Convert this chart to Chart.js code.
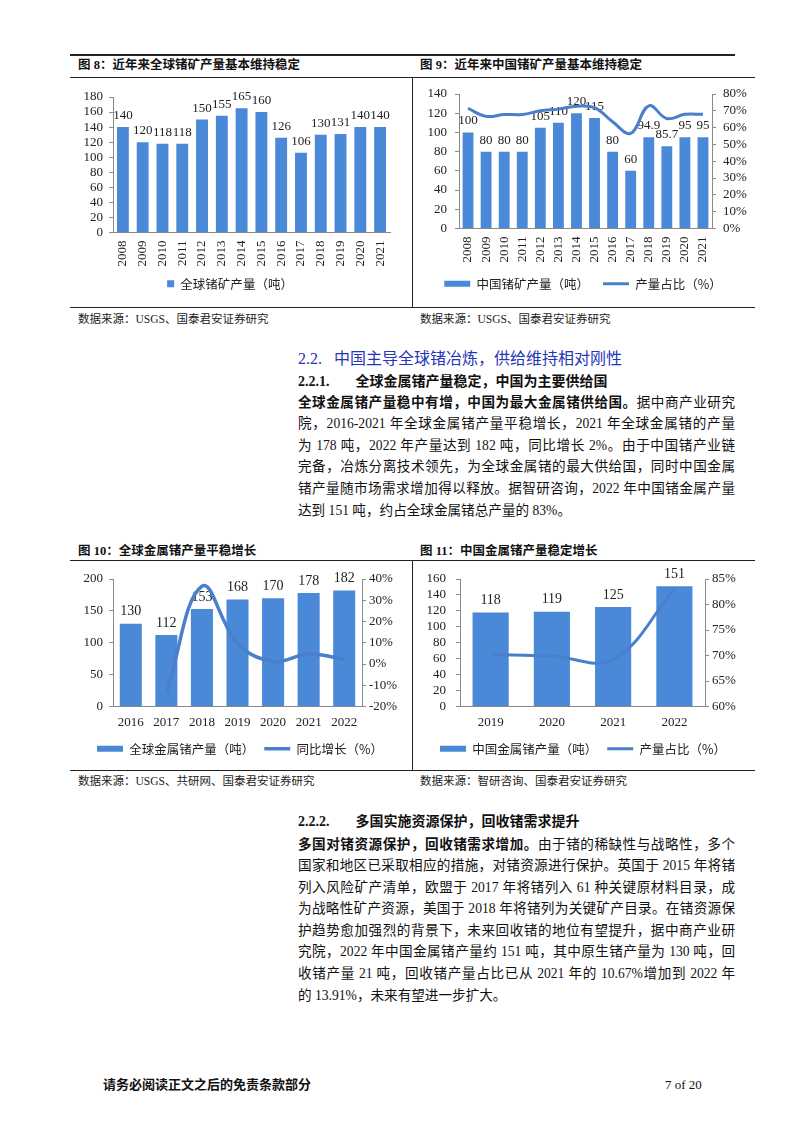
<!DOCTYPE html>
<html>
<head>
<meta charset="utf-8">
<script src="https://cdn.jsdelivr.net/npm/chart.js@4.4.0/dist/chart.umd.min.js"></script>
<style>
  body { margin: 0; background: #fff; }
  #page { position: relative; width: 802px; height: 1133px; overflow: hidden;
          font-family: "Liberation Serif", "Noto Sans CJK SC", serif; color: #111; }
  .ln { position: absolute; background: #222; }
  .t { position: absolute; white-space: nowrap; line-height: 1; }
  .ftitle { font-family: "Liberation Serif", "Noto Sans CJK SC", serif; font-weight: bold; font-size: 12.5px; }
  .src { font-size: 11.5px; color: #222; }
  .box { position: absolute; }
  .p { position: absolute; left: 298px; width: 437px; font-size: 13.6px; line-height: 20px; white-space: nowrap;
       text-align: justify; text-align-last: justify; }
  .p.last { text-align-last: left; }
  b { font-weight: bold; }
</style>
</head>
<body>
<div id="page">
  <!-- row 1 frame -->
  <div class="ln" style="left:70px;top:54px;width:665px;height:2px;"></div>
  <div class="t ftitle" style="left:78px;top:59px;">图 8：近年来全球锗矿产量基本维持稳定</div>
  <div class="t ftitle" style="left:420px;top:59px;">图 9：近年来中国锗矿产量基本维持稳定</div>
  <div class="ln" style="left:70px;top:77px;width:685px;height:1px;"></div>
  <div class="ln" style="left:412px;top:77px;width:1px;height:230px;"></div>
  <div class="ln" style="left:70px;top:307px;width:685px;height:1px;"></div>
  <div class="box" style="left:70px;top:78px;"><canvas id="c8" width="340" height="227"></canvas></div>
  <div class="box" style="left:413px;top:78px;"><canvas id="c9" width="340" height="227"></canvas></div>
  <div class="t src" style="left:78px;top:314px;">数据来源：USGS、国泰君安证券研究</div>
  <div class="t src" style="left:420px;top:314px;">数据来源：USGS、国泰君安证券研究</div>

  <!-- text block 1 -->
  <div class="t" style="left:298px;top:351px;font-size:16px;color:#2536b8;font-family:'Liberation Serif','Noto Sans CJK SC';">2.2.&nbsp;&nbsp;&nbsp;中国主导全球锗冶炼，供给维持相对刚性</div>
  <div class="t" style="left:298px;top:375px;font-size:14px;font-weight:bold;">2.2.1.<span style="display:inline-block;width:26px;"></span>全球金属锗产量稳定，中国为主要供给国</div>
  <div class="p" style="top:393px;"><b>全球金属锗产量稳中有增，中国为最大金属锗供给国。</b>据中商产业研究</div>
  <div class="p" style="top:414px;">院，2016-2021 年全球金属锗产量平稳增长，2021 年全球金属锗的产量</div>
  <div class="p" style="top:436px;">为 178 吨，2022 年产量达到 182 吨，同比增长 2%。由于中国锗产业链</div>
  <div class="p" style="top:457px;">完备，冶炼分离技术领先，为全球金属锗的最大供给国，同时中国金属</div>
  <div class="p" style="top:479px;">锗产量随市场需求增加得以释放。据智研咨询，2022 年中国锗金属产量</div>
  <div class="p last" style="top:501px;">达到 151 吨，约占全球金属锗总产量的 83%。</div>

  <!-- row 2 frame -->
  <div class="t ftitle" style="left:78px;top:545px;">图 10：全球金属锗产量平稳增长</div>
  <div class="t ftitle" style="left:420px;top:545px;">图 11：中国金属锗产量稳定增长</div>
  <div class="ln" style="left:70px;top:560px;width:685px;height:1px;"></div>
  <div class="ln" style="left:412px;top:560px;width:1px;height:210px;"></div>
  <div class="ln" style="left:70px;top:770px;width:685px;height:1px;"></div>
  <div class="box" style="left:70px;top:561px;"><canvas id="c10" width="340" height="208"></canvas></div>
  <div class="box" style="left:413px;top:561px;"><canvas id="c11" width="340" height="208"></canvas></div>
  <div class="t src" style="left:78px;top:776px;">数据来源：USGS、共研网、国泰君安证券研究</div>
  <div class="t src" style="left:420px;top:776px;">数据来源：智研咨询、国泰君安证券研究</div>

  <!-- text block 2 -->
  <div class="t" style="left:298px;top:815px;font-size:14px;font-weight:bold;">2.2.2.<span style="display:inline-block;width:26px;"></span>多国实施资源保护，回收锗需求提升</div>
  <div class="p" style="top:835px;"><b>多国对锗资源保护，回收锗需求增加。</b>由于锗的稀缺性与战略性，多个</div>
  <div class="p" style="top:856px;">国家和地区已采取相应的措施，对锗资源进行保护。英国于 2015 年将锗</div>
  <div class="p" style="top:878px;">列入风险矿产清单，欧盟于 2017 年将锗列入 61 种关键原材料目录，成</div>
  <div class="p" style="top:899px;">为战略性矿产资源，美国于 2018 年将锗列为关键矿产目录。在锗资源保</div>
  <div class="p" style="top:921px;">护趋势愈加强烈的背景下，未来回收锗的地位有望提升，据中商产业研</div>
  <div class="p" style="top:942px;">究院，2022 年中国金属锗产量约 151 吨，其中原生锗产量为 130 吨，回</div>
  <div class="p" style="top:964px;">收锗产量 21 吨，回收锗产量占比已从 2021 年的 10.67%增加到 2022 年</div>
  <div class="p last" style="top:986px;">的 13.91%，未来有望进一步扩大。</div>

  <!-- footer -->
  <div class="t" style="left:103px;top:1078px;font-size:13px;font-weight:bold;">请务必阅读正文之后的免责条款部分</div>
  <div class="t" style="left:665px;top:1078px;font-size:13px;">7 of 20</div>
</div>

<script>
// 图8 / 图9
const years8 = ['2008', '2009', '2010', '2011', '2012', '2013', '2014', '2015', '2016', '2017', '2018', '2019', '2020', '2021'];
const globalMine = [140, 120, 118, 118, 150, 155, 165, 160, 126, 106, 130, 131, 140, 140];
const chinaMine = [100, 80, 80, 80, 105, 110, 120, 115, 80, 60, 94.9, 85.7, 95, 95];
const chinaMineShare = [71.4, 66.7, 67.8, 67.8, 70, 71, 72.7, 71.9, 63.5, 56.6, 73, 65.4, 67.9, 67.9];

// 图10
const years10 = ['2016', '2017', '2018', '2019', '2020', '2021', '2022'];
const globalMetal = [130, 112, 153, 168, 170, 178, 182];
const globalMetalYoY = [null, -13.8, 36.6, 9.8, 1.2, 4.7, 2.2];

// 图11
const years11 = ['2019', '2020', '2021', '2022'];
const chinaMetal = [118, 119, 125, 151];
const chinaMetalShare = [70.2, 69.9, 69.3, 83];

const BAR = '#4a88d8';
const LINE = '#4a7fcb';
const AXIS = '#8a8a8a';
const numFont = { family: '"Liberation Serif", serif', size: 13 };
const cnFont = { family: '"Noto Sans CJK SC", sans-serif', size: 12.5 };

Chart.defaults.animation = false;
Chart.defaults.color = '#222';

// value labels above the bars
const barLabels = {
    id: 'barLabels',
    afterDatasetDraw(chart, args, opts) {
        const ds = chart.data.datasets[args.index];
        if (ds.type !== 'bar') return;
        const ctx = chart.ctx;
        ctx.save();
        ctx.font = (opts.size || 13) + 'px "Liberation Serif"';
        ctx.fillStyle = '#222';
        ctx.textAlign = 'center';
        ctx.textBaseline = 'bottom';
        args.meta.data.forEach((bar, i) => {
            ctx.fillText(String(ds.data[i]), bar.x, bar.y - 5);
        });
        ctx.restore();
    }
};

function yAxis(position, min, max, step, width, pad, pct) {
    return {
        position: position,
        min: min,
        max: max,
        ticks: {
            stepSize: step,
            autoSkip: false,
            font: numFont,
            color: '#222',
            padding: pad,
            callback: v => pct ? v + '%' : v
        },
        grid: { display: true, drawOnChartArea: false, drawTicks: true, tickLength: 4, color: AXIS },
        border: { display: true, color: AXIS },
        afterFit: s => { s.width = width; }
    };
}

function xAxis(height, rotate, pad) {
    return {
        ticks: { font: numFont, color: '#222', padding: pad, maxRotation: rotate, minRotation: rotate, autoSkip: false },
        grid: { display: false, drawTicks: false },
        border: { display: true, color: AXIS },
        afterFit: s => { s.height = height; }
    };
}

function legendOpts(boxW, boxH, pad) {
    return {
        position: 'bottom',
        labels: {
            usePointStyle: true,
            pointStyleWidth: boxW,
            boxHeight: boxH,
            font: cnFont,
            color: '#222',
            padding: pad,
            sort: (a, b) => a.datasetIndex - b.datasetIndex
        }
    };
}

// 图 8
new Chart('c8', {
    type: 'bar',
    data: {
        labels: years8,
        datasets: [{
            type: 'bar',
            label: '全球锗矿产量（吨）',
            data: globalMine,
            backgroundColor: BAR,
            pointStyle: 'rect',
            barPercentage: 0.6,
            categoryPercentage: 1
        }]
    },
    options: {
        responsive: false,
        layout: { padding: { top: 19, right: 20, left: 0, bottom: 5 } },
        scales: {
            x: xAxis(35, 90, 8),
            y: yAxis('left', 0, 180, 20, 43, 6, false)
        },
        plugins: {
            legend: legendOpts(7, 7, 10),
            tooltip: { enabled: false },
            barLabels: { size: 13 }
        }
    },
    plugins: [barLabels]
});

// 图 9
new Chart('c9', {
    type: 'bar',
    data: {
        labels: years8,
        datasets: [{
            type: 'bar',
            label: '中国锗矿产量（吨）',
            data: chinaMine,
            backgroundColor: BAR,
            pointStyle: 'rect',
            barPercentage: 0.6,
            categoryPercentage: 1,
            yAxisID: 'y',
            order: 2
        }, {
            type: 'line',
            label: '产量占比（%）',
            data: chinaMineShare,
            borderColor: LINE,
            backgroundColor: LINE,
            borderWidth: 3,
            pointRadius: 0,
            pointStyle: 'line',
            tension: 0.4,
            yAxisID: 'y1',
            order: 1
        }]
    },
    options: {
        responsive: false,
        layout: { padding: { top: 16, right: 0, left: 0, bottom: 5 } },
        scales: {
            x: xAxis(35, 90, 8),
            y: yAxis('left', 0, 140, 20, 46, 8, false),
            y1: yAxis('right', 0, 80, 10, 41, 7, true)
        },
        plugins: {
            legend: legendOpts(26, 6, 14),
            tooltip: { enabled: false },
            barLabels: { size: 13 }
        }
    },
    plugins: [barLabels]
});

// 图 10
new Chart('c10', {
    type: 'bar',
    data: {
        labels: years10,
        datasets: [{
            type: 'bar',
            label: '全球金属锗产量（吨）',
            data: globalMetal,
            backgroundColor: BAR,
            pointStyle: 'rect',
            barPercentage: 0.62,
            categoryPercentage: 1,
            yAxisID: 'y',
            order: 2
        }, {
            type: 'line',
            label: '同比增长（%）',
            data: globalMetalYoY,
            borderColor: LINE,
            backgroundColor: LINE,
            borderWidth: 3.5,
            pointRadius: 0,
            pointStyle: 'line',
            tension: 0.4,
            yAxisID: 'y1',
            order: 1
        }]
    },
    options: {
        responsive: false,
        layout: { padding: { top: 18, right: 0, left: 0, bottom: 4 } },
        scales: {
            x: xAxis(26, 0, 8),
            y: yAxis('left', 0, 200, 50, 43, 6, false),
            y1: yAxis('right', -20, 40, 10, 48, 3, true)
        },
        plugins: {
            legend: legendOpts(26, 6, 10),
            tooltip: { enabled: false },
            barLabels: { size: 14 }
        }
    },
    plugins: [barLabels]
});

// 图 11
new Chart('c11', {
    type: 'bar',
    data: {
        labels: years11,
        datasets: [{
            type: 'bar',
            label: '中国金属锗产量（吨）',
            data: chinaMetal,
            backgroundColor: BAR,
            pointStyle: 'rect',
            barPercentage: 0.59,
            categoryPercentage: 1,
            yAxisID: 'y',
            order: 2
        }, {
            type: 'line',
            label: '产量占比（%）',
            data: chinaMetalShare,
            borderColor: LINE,
            backgroundColor: LINE,
            borderWidth: 3,
            pointRadius: 0,
            pointStyle: 'line',
            tension: 0.4,
            yAxisID: 'y1',
            order: 1
        }]
    },
    options: {
        responsive: false,
        layout: { padding: { top: 18, right: 0, left: 0, bottom: 4 } },
        scales: {
            x: xAxis(26, 0, 8),
            y: yAxis('left', 0, 160, 20, 47, 10, false),
            y1: yAxis('right', 60, 85, 5, 48, 3, true)
        },
        plugins: {
            legend: legendOpts(26, 6, 10),
            tooltip: { enabled: false },
            barLabels: { size: 14 }
        }
    },
    plugins: [barLabels]
});
</script>
</body>
</html>
